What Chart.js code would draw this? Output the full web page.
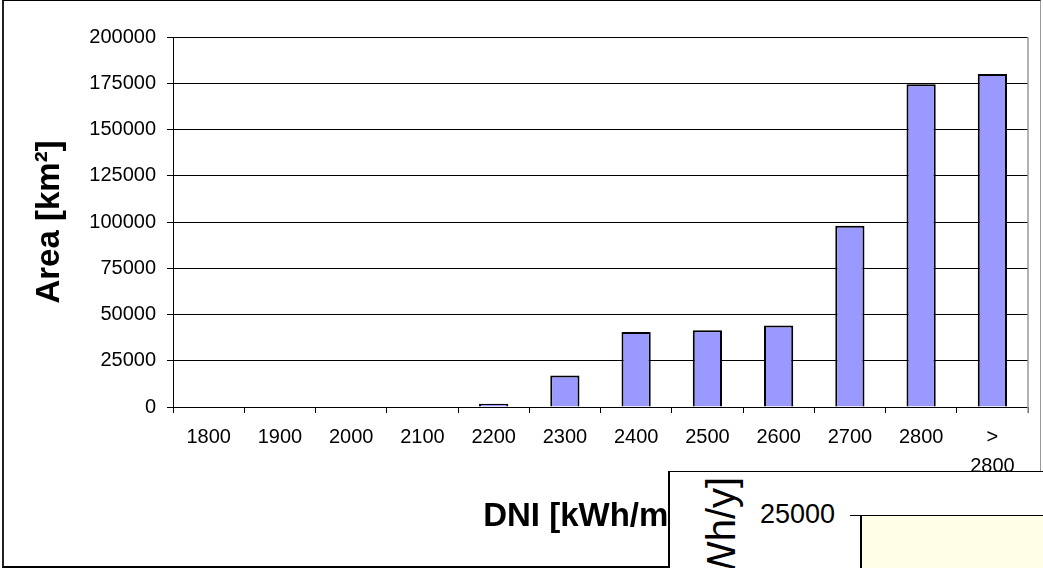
<!DOCTYPE html>
<html>
<head>
<meta charset="utf-8">
<title>Area by DNI class</title>
<script src="https://cdn.jsdelivr.net/npm/chart.js@4.4.1/dist/chart.umd.min.js"></script>
<style>
  html, body { margin: 0; padding: 0; width: 1043px; height: 568px; overflow: hidden; background: #fff;
    font-family: 'Liberation Sans', Arial, sans-serif; }
  #chartBox { position: absolute; left: 0; top: 0; width: 1043px; height: 568px; }
  #frame { position: absolute; left: 2px; top: 0; width: 1036px; height: 565px; box-sizing: content-box;
    border-style: solid; border-width: 1px 1px 2px 2px; border-color: #000 #9a9a9a #000 #222; pointer-events: none; }
  /* neighbouring chart that overlaps the lower right corner */
  #inset { position: absolute; left: 668px; top: 471px; width: 400px; height: 120px; background: #fff;
    border-left: 2px solid #000; border-top: 1px solid #000; }
  .insetText { position: absolute; color: #000; line-height: 1; white-space: nowrap; font-family: 'Liberation Sans', Arial, sans-serif; }
  #insetTitle { left: 701px; top: 579px; font-size: 40px; transform-origin: 0 0; transform: rotate(-90deg); }
  #insetTick { left: 760px; top: 501px; font-size: 27px; }
  #insetTickMark { position: absolute; left: 850px; top: 515px; width: 12px; height: 1px; background: #000; }
  #insetPlot { position: absolute; left: 860px; top: 515px; width: 220px; height: 80px; background: #fffee6;
    border-left: 2px solid #000; border-top: 1px solid #000; }
</style>
</head>
<body>
<div id="chartBox"><canvas id="dniChart" width="1043" height="568"></canvas></div>
<div id="frame"></div>
<div id="inset"></div>
<div id="insetTitle" class="insetText">Wh/y]</div>
<div id="insetTick" class="insetText">25000</div>
<div id="insetTickMark"></div>
<div id="insetPlot"></div>
<script>
// DNI classes (kWh/m²/y) and the land area falling into each class
const categories = ['1800', '1900', '2000', '2100', '2200', '2300', '2400', '2500', '2600', '2700', '2800', ['>', '2800']];
const areaKm2 = [0, 0, 0, 0, 1800, 17000, 40500, 41500, 44000, 98000, 174500, 180000];
const yTickStep = 25000;
const yMax = 200000;

const FONT = "'Liberation Sans', Arial, sans-serif";
Chart.defaults.font.family = FONT;
Chart.defaults.color = '#000';

// grey right-hand edge of the plot area
const plotEdge = {
  id: 'plotEdge',
  beforeDatasetsDraw(chart) {
    const { ctx, chartArea: a } = chart;
    ctx.save();
    ctx.strokeStyle = '#9a9a9a';
    ctx.lineWidth = 1.5;
    ctx.beginPath();
    ctx.moveTo(a.right, a.top);
    ctx.lineTo(a.right, a.bottom + 6);
    ctx.stroke();
    ctx.restore();
  }
};

new Chart(document.getElementById('dniChart'), {
  type: 'bar',
  data: {
    labels: categories,
    datasets: [{
      label: 'Area',
      data: areaKm2,
      backgroundColor: '#9999ff',
      borderColor: '#000',
      borderWidth: 2,
      barPercentage: 0.41,
      categoryPercentage: 1.0
    }]
  },
  options: {
    responsive: false,
    animation: false,
    devicePixelRatio: 1,
    layout: { padding: { top: 37, right: 15, bottom: 0, left: 0 } },
    plugins: { legend: { display: false }, tooltip: { enabled: false } },
    scales: {
      x: {
        grid: { display: true, drawOnChartArea: false, drawTicks: true, tickLength: 6, color: '#000', offset: true },
        border: { display: true, color: '#000', width: 1 },
        ticks: { color: '#000', font: { size: 20, lineHeight: 1.45 }, padding: 10, maxRotation: 0, autoSkip: false },
        title: { display: true, text: 'DNI [kWh/m²/y]', color: '#000',
                 font: { size: 33, weight: 'bold' }, padding: { top: 0, bottom: 31 } },
        afterFit(scale) { scale.height = 161; }
      },
      y: {
        min: 0,
        max: yMax,
        ticks: { stepSize: yTickStep, color: '#000', font: { size: 20 }, padding: 11,
                 callback: v => String(v) },
        grid: { color: '#000', lineWidth: 1, tickLength: 6, drawTicks: true },
        border: { display: true, color: '#000', width: 1 },
        title: { display: true, text: 'Area [km²]', color: '#000',
                 font: { size: 33, weight: 'bold' }, padding: { top: 30, bottom: 0 } },
        afterFit(scale) { scale.width = 173; }
      }
    }
  },
  plugins: [plotEdge]
});
</script>
</body>
</html>
